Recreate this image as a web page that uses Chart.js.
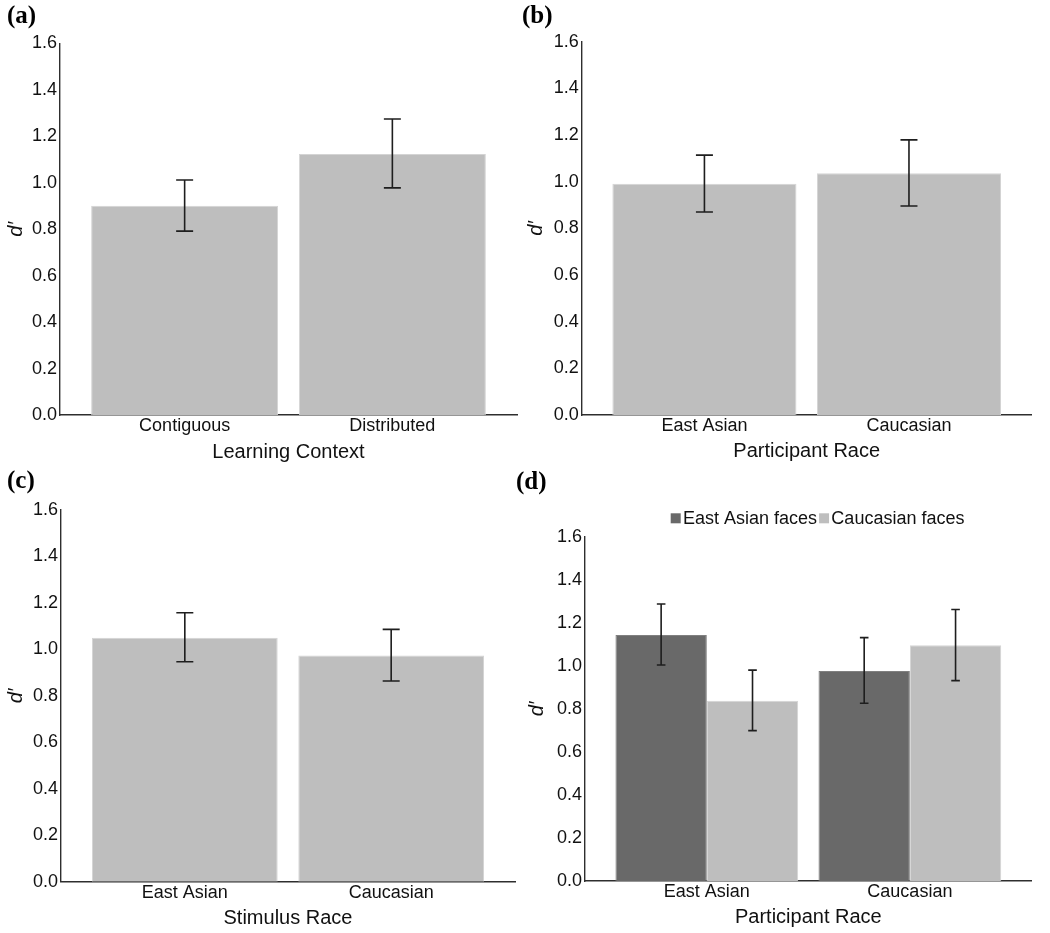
<!DOCTYPE html>
<html>
<head>
<meta charset="utf-8">
<script src="https://cdn.jsdelivr.net/npm/chart.js@4.4.0/dist/chart.umd.min.js"></script>
<style>
  html, body { margin: 0; padding: 0; background: #fff; }
  body { width: 1050px; height: 933px; position: relative; overflow: hidden; }
  canvas { position: absolute; }
</style>
</head>
<body>
<canvas id="chartA" width="525" height="466" style="left:0px;top:0px;width:525px;height:466px"></canvas>
<canvas id="chartB" width="530" height="466" style="left:520px;top:0px;width:530px;height:466px"></canvas>
<canvas id="chartC" width="525" height="467" style="left:0px;top:466px;width:525px;height:467px"></canvas>
<canvas id="chartD" width="535" height="467" style="left:515px;top:466px;width:535px;height:467px"></canvas>
<script>
// ---------------- DATA ----------------
const yTickValues = [0, 0.2, 0.4, 0.6, 0.8, 1.0, 1.2, 1.4, 1.6];
const yAxisTitle = "d\u2032";

// (a) Learning Context
const contextCategories = ["Contiguous", "Distributed"];
const contextMeans = [0.901, 1.124];
const contextUpper = [1.012, 1.275];
const contextLower = [0.792, 0.978];

// (b) Participant Race
const participantCategories = ["East Asian", "Caucasian"];
const participantMeans = [0.991, 1.036];
const participantUpper = [1.114, 1.179];
const participantLower = [0.870, 0.896];

// (c) Stimulus Race
const stimulusCategories = ["East Asian", "Caucasian"];
const stimulusMeans = [1.050, 0.974];
const stimulusUpper = [1.158, 1.086];
const stimulusLower = [0.947, 0.864];

// (d) Participant Race x Face Race
const interactionCategories = ["East Asian", "Caucasian"];
const seriesNames = ["East Asian faces", "Caucasian faces"];
const eastAsianFacesMeans = [1.143, 0.976];
const eastAsianFacesUpper = [1.287, 1.131];
const eastAsianFacesLower = [1.004, 0.826];
const caucasianFacesMeans = [0.838, 1.095];
const caucasianFacesUpper = [0.980, 1.262];
const caucasianFacesLower = [0.699, 0.931];

const panelLabels = ["(a)", "(b)", "(c)", "(d)"];
const xAxisTitles = ["Learning Context", "Participant Race", "Stimulus Race", "Participant Race"];

// ---------------- STYLE ----------------
const LIGHT = "#bebebe", LIGHT_EDGE = "#d4d4d4";
const DARK = "#696969", DARK_EDGE = "#808080";
const AXIS = "#2e2e2e";
const TEXT = "#111111";
const FONT = "'Liberation Sans', Arial, Helvetica, sans-serif";

Chart.defaults.font.family = FONT;
Chart.defaults.color = TEXT;
Chart.defaults.animation = false;

// error bars drawn from dataset values through the y scale
const errorBarPlugin = {
  id: "errorBars",
  afterDatasetsDraw(chart, args, opts) {
    const ctx = chart.ctx, y = chart.scales.y;
    ctx.save();
    ctx.strokeStyle = opts.color || "#1e1e1e";
    ctx.lineWidth = opts.lineWidth || 1.6;
    chart.data.datasets.forEach((ds, di) => {
      const meta = chart.getDatasetMeta(di);
      meta.data.forEach((el, i) => {
        const x = el.x;
        const yt = y.getPixelForValue(ds.errUpper[i]);
        const yb = y.getPixelForValue(ds.errLower[i]);
        const hw = opts.capHalfWidth;
        ctx.beginPath();
        ctx.moveTo(x, yt); ctx.lineTo(x, yb);
        ctx.moveTo(x - hw, yt); ctx.lineTo(x + hw, yt);
        ctx.moveTo(x - hw, yb); ctx.lineTo(x + hw, yb);
        ctx.stroke();
      });
    });
    ctx.restore();
  }
};

// panel letter
const panelLabelPlugin = {
  id: "panelLabel",
  afterDraw(chart, args, opts) {
    if (!opts.text) return;
    const ctx = chart.ctx;
    ctx.save();
    ctx.font = "bold 25px 'Liberation Serif', 'Times New Roman', serif";
    ctx.fillStyle = "#000";
    ctx.textBaseline = "alphabetic";
    ctx.textAlign = "left";
    ctx.fillText(opts.text, opts.x, opts.y);
    ctx.restore();
  }
};

// ggplot-like legend (compact boxes)
const compactLegendPlugin = {
  id: "compactLegend",
  afterDraw(chart, args, opts) {
    if (!opts.display) return;
    const ctx = chart.ctx;
    ctx.save();
    ctx.font = "18px " + FONT;
    ctx.textBaseline = "middle";
    ctx.textAlign = "left";
    let x = chart.chartArea.left + opts.offsetX;
    const cy = opts.y;
    chart.data.datasets.forEach((ds) => {
      ctx.fillStyle = ds.backgroundColor;
      ctx.fillRect(x, cy - 5, 10, 10);
      x += 10 + 2.3;
      ctx.fillStyle = TEXT;
      ctx.fillText(ds.label, x, cy + 0.5);
      x += ctx.measureText(ds.label).width + 2;
    });
    ctx.restore();
  }
};

function makeChart(id, cfg) {
  const categories = cfg.categories;
  const datasets = cfg.series.map(s => ({
    label: s.label,
    data: s.means.map((v, i) => ({ x: i + 1, y: v })),
    errUpper: s.upper,
    errLower: s.lower,
    backgroundColor: s.color,
    borderColor: s.edge,
    borderWidth: 1,
    borderSkipped: "bottom",
    categoryPercentage: 0.9,
    barPercentage: 1.0
  }));
  return new Chart(document.getElementById(id), {
    type: "bar",
    data: { datasets },
    plugins: [errorBarPlugin, panelLabelPlugin, compactLegendPlugin],
    options: {
      responsive: false,
      devicePixelRatio: 1,
      animation: false,
      layout: { padding: cfg.padding },
      plugins: {
        legend: { display: false },
        tooltip: { enabled: false },
        errorBars: { capHalfWidth: cfg.capHalfWidth, lineWidth: 1.6, color: "#1e1e1e" },
        panelLabel: cfg.panelLabel,
        compactLegend: cfg.legend || { display: false }
      },
      scales: {
        x: {
          type: "linear",
          offset: false,
          min: 0.4,
          max: 2.6,
          afterBuildTicks: (scale) => { scale.ticks = categories.map((c, i) => ({ value: i + 1 })); },
          afterFit: (scale) => { scale.height = cfg.xHeight; },
          grid: { display: false, drawTicks: false, drawOnChartArea: false, offset: false },
          border: { display: true, color: AXIS, width: 1.4 },
          ticks: {
            autoSkip: false, maxRotation: 0, minRotation: 0,
            padding: 2,
            font: { size: 18, lineHeight: 1 },
            color: TEXT,
            callback: (v) => categories[Math.round(v) - 1]
          },
          title: {
            display: true, text: cfg.xTitle, padding: 0,
            font: { size: 20, lineHeight: 1 }, color: TEXT
          }
        },
        y: {
          type: "linear",
          min: 0,
          max: 1.6,
          afterBuildTicks: (scale) => { scale.ticks = yTickValues.map(v => ({ value: v })); },
          afterFit: (scale) => { scale.width = cfg.yWidth; },
          grid: { display: false, drawTicks: false, drawOnChartArea: false },
          border: { display: true, color: AXIS, width: 1.4 },
          ticks: {
            padding: 3,
            font: { size: 18, lineHeight: 1 },
            color: TEXT,
            callback: (v) => Number(v).toFixed(1)
          },
          title: {
            display: true, text: yAxisTitle, padding: 0,
            font: { size: 20, style: "italic", lineHeight: 1 }, color: TEXT
          }
        }
      }
    }
  });
}

makeChart("chartA", {
  categories: contextCategories,
  series: [{ label: "d", means: contextMeans, upper: contextUpper, lower: contextLower, color: LIGHT, edge: LIGHT_EDGE }],
  xTitle: xAxisTitles[0],
  padding: { left: 6, right: 8, top: 43.5, bottom: 3.6 },
  yWidth: 54, xHeight: 47.4,
  capHalfWidth: 8.5,
  panelLabel: { text: panelLabels[0], x: 7, y: 23 }
});

makeChart("chartB", {
  categories: participantCategories,
  series: [{ label: "d", means: participantMeans, upper: participantUpper, lower: participantLower, color: LIGHT, edge: LIGHT_EDGE }],
  xTitle: xAxisTitles[1],
  padding: { left: 6, right: 18.3, top: 41.7, bottom: 4.3 },
  yWidth: 55.7, xHeight: 46.7,
  capHalfWidth: 8.5,
  panelLabel: { text: panelLabels[1], x: 2, y: 23 }
});

makeChart("chartC", {
  categories: stimulusCategories,
  series: [{ label: "d", means: stimulusMeans, upper: stimulusUpper, lower: stimulusLower, color: LIGHT, edge: LIGHT_EDGE }],
  xTitle: xAxisTitles[2],
  padding: { left: 6, right: 10, top: 44, bottom: 4.6 },
  yWidth: 55, xHeight: 46.7,
  capHalfWidth: 8.5,
  panelLabel: { text: panelLabels[2], x: 7, y: 22 }
});

makeChart("chartD", {
  categories: interactionCategories,
  series: [
    { label: seriesNames[0], means: eastAsianFacesMeans, upper: eastAsianFacesUpper, lower: eastAsianFacesLower, color: DARK, edge: DARK_EDGE },
    { label: seriesNames[1], means: caucasianFacesMeans, upper: caucasianFacesUpper, lower: caucasianFacesLower, color: LIGHT, edge: LIGHT_EDGE }
  ],
  xTitle: xAxisTitles[3],
  padding: { left: 12.5, right: 18.3, top: 70.7, bottom: 5.3 },
  yWidth: 57.5, xHeight: 46.7,
  capHalfWidth: 4.3,
  panelLabel: { text: panelLabels[3], x: 1, y: 23 },
  legend: { display: true, offsetX: 85.7, y: 52.3 }
});
</script>
</body>
</html>
